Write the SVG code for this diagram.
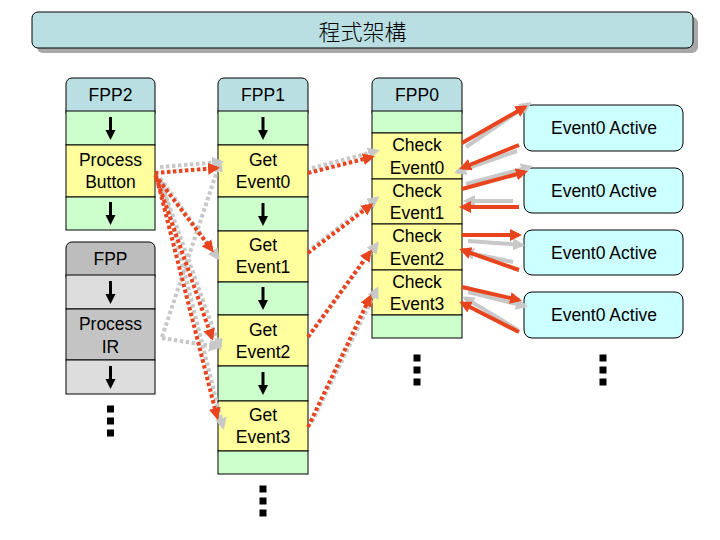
<svg xmlns="http://www.w3.org/2000/svg" xmlns:xlink="http://www.w3.org/1999/xlink" width="720" height="540" viewBox="0 0 720 540">
<style>
text{font-family:"Liberation Sans",Arial,sans-serif;font-size:17.5px;fill:#000;text-anchor:middle}
.title{font-family:"Noto Sans CJK TC","Noto Sans CJK SC",sans-serif;font-size:22px;font-weight:300}
.hdr{fill:#BADFE3;stroke:#000;stroke-width:1}
.ghdr{fill:#BDBDBD;stroke:#000;stroke-width:1}
.grn{fill:#CCFFCC;stroke:#000;stroke-width:1}
.yel{fill:#FFFF9E;stroke:#000;stroke-width:1}
.lg{fill:#DDDDDD;stroke:#000;stroke-width:1}
.dg{fill:#C4C4C4;stroke:#000;stroke-width:1}
.ev{fill:#CCFFFF;stroke:#000;stroke-width:1}
.rd{fill:none;stroke:#E8441E;stroke-width:4;stroke-dasharray:3.5 2.5;marker-end:url(#hr)}
.gd{fill:none;stroke:#C8C8C8;stroke-width:4;stroke-dasharray:3.5 2.5;marker-end:url(#hg)}
.rs{fill:none;stroke:#E8441E;stroke-width:4;marker-end:url(#hr)}
.gs{fill:none;stroke:#C8C8C8;stroke-width:4;marker-end:url(#hg)}
.dot{fill:#000}
</style>
<defs>
<marker id="hr" markerUnits="userSpaceOnUse" markerWidth="13" markerHeight="13" refX="9" refY="6" orient="auto"><path d="M0,0 L12,6 L0,12 z" fill="#E8441E"/></marker>
<marker id="hg" markerUnits="userSpaceOnUse" markerWidth="13" markerHeight="13" refX="9" refY="6" orient="auto"><path d="M0,0 L12,6 L0,12 z" fill="#C8C8C8"/></marker>
<g id="down"><rect x="-1.5" y="0" width="3" height="16" fill="#000"/><path d="M-5,13 L5,13 L0,23 z" fill="#000"/></g>
<g id="dots"><rect x="-3.5" y="-3.5" width="7" height="7"/><rect x="-3.5" y="8.5" width="7" height="7"/><rect x="-3.5" y="20.5" width="7" height="7"/></g>
</defs>
<rect width="720" height="540" fill="#fff"/>
<g id="title">
<rect x="37" y="17" width="661" height="36" rx="6" fill="#A8A8A8"/>
<rect x="32" y="12" width="661" height="36" rx="6" class="hdr"/>
<text x="362.5" y="40" class="title">程式架構</text>
</g>
<g id="fpp2">
<rect x="66" y="78" width="89" height="40" rx="6" class="hdr"/>
<rect x="66" y="111" width="89" height="34" class="grn"/>
<rect x="66" y="145" width="89" height="52" class="yel"/>
<rect x="66" y="197" width="89" height="33" class="grn"/>
<text x="110.5" y="101">FPP2</text>
<text x="110.5" y="166">Process</text>
<text x="110.5" y="188">Button</text>
<use xlink:href="#down" x="110.5" y="117"/>
<use xlink:href="#down" x="110.5" y="202"/>
</g>
<g id="fpp">
<rect x="66" y="242" width="89" height="40" rx="6" class="ghdr"/>
<rect x="66" y="275" width="89" height="34" class="lg"/>
<rect x="66" y="309" width="89" height="51" class="dg"/>
<rect x="66" y="360" width="89" height="34" class="lg"/>
<text x="110.5" y="265">FPP</text>
<text x="110.5" y="330">Process</text>
<text x="110.5" y="353">IR</text>
<use xlink:href="#down" x="110.5" y="281"/>
<use xlink:href="#down" x="110.5" y="366"/>
<use xlink:href="#dots" x="110.5" y="409" class="dot"/>
</g>
<g id="fpp1">
<rect x="218" y="78" width="90" height="40" rx="6" class="hdr"/>
<rect x="218" y="111" width="90" height="34" class="grn"/>
<rect x="218" y="145" width="90" height="52" class="yel"/>
<rect x="218" y="197" width="90" height="34" class="grn"/>
<rect x="218" y="231" width="90" height="51" class="yel"/>
<rect x="218" y="282" width="90" height="33" class="grn"/>
<rect x="218" y="315" width="90" height="51" class="yel"/>
<rect x="218" y="366" width="90" height="35" class="grn"/>
<rect x="218" y="401" width="90" height="50" class="yel"/>
<rect x="218" y="451" width="90" height="23" class="grn"/>
<text x="263" y="101">FPP1</text>
<text x="263" y="166">Get</text>
<text x="263" y="188">Event0</text>
<text x="263" y="251">Get</text>
<text x="263" y="273">Event1</text>
<text x="263" y="336">Get</text>
<text x="263" y="358">Event2</text>
<text x="263" y="421">Get</text>
<text x="263" y="443">Event3</text>
<use xlink:href="#down" x="263" y="117"/>
<use xlink:href="#down" x="263" y="203"/>
<use xlink:href="#down" x="263" y="287"/>
<use xlink:href="#down" x="263" y="372"/>
<use xlink:href="#dots" x="263" y="489" class="dot"/>
</g>
<g id="fpp0">
<rect x="372" y="78" width="90" height="40" rx="6" class="hdr"/>
<rect x="372" y="111" width="90" height="22" class="grn"/>
<rect x="372" y="133" width="90" height="46" class="yel"/>
<rect x="372" y="179" width="90" height="45" class="yel"/>
<rect x="372" y="224" width="90" height="46" class="yel"/>
<rect x="372" y="270" width="90" height="45" class="yel"/>
<rect x="372" y="315" width="90" height="23" class="grn"/>
<text x="417" y="151">Check</text>
<text x="417" y="174">Event0</text>
<text x="417" y="197">Check</text>
<text x="417" y="219">Event1</text>
<text x="417" y="242">Check</text>
<text x="417" y="265">Event2</text>
<text x="417" y="288">Check</text>
<text x="417" y="310">Event3</text>
<text x="417" y="101">FPP0</text>
<use xlink:href="#dots" x="417" y="358" class="dot"/>
</g>
<g id="ev0"><rect x="524" y="105" width="159" height="46" rx="8" class="ev"/><text x="604" y="134">Event0 Active</text></g>
<g id="ev1"><rect x="524" y="168" width="159" height="45" rx="8" class="ev"/><text x="604" y="197">Event0 Active</text></g>
<g id="ev2"><rect x="524" y="230" width="159" height="45" rx="8" class="ev"/><text x="604" y="259">Event0 Active</text></g>
<g id="ev3"><rect x="524" y="292" width="159" height="46" rx="8" class="ev"/><text x="604" y="321">Event0 Active</text></g>
<use xlink:href="#dots" x="603" y="358" class="dot"/>
<g id="connectors">
<path class="gd" d="M160,167 L221,162"/>
<path class="gd" d="M160,178 L218,258"/>
<path class="gd" d="M160,180 L220,348"/>
<path class="gd" d="M162,182 L223,427"/>
<path class="gd" d="M162,337 L220,162"/>
<path class="gd" d="M162,338 L218,347"/>
<path class="rd" d="M155,173 L217,168"/>
<path class="rd" d="M155,175 L212,250"/>
<path class="rd" d="M156,177 L212,338"/>
<path class="rd" d="M157,179 L217,417"/>
<path class="gd" d="M312,168 L377,151"/>
<path class="gd" d="M312,248 L377,198"/>
<path class="gd" d="M312,332 L377,244"/>
<path class="gd" d="M312,422 L377,289"/>
<path class="rd" d="M308,173 L372,157"/>
<path class="rd" d="M308,253 L371,205"/>
<path class="rd" d="M308,337 L370,252"/>
<path class="rd" d="M308,427 L370,297"/>
<path class="gs" d="M466,147 L529,104"/>
<path class="gs" d="M517,151 L457,172"/>
<path class="gs" d="M466,184 L530,167"/>
<path class="gs" d="M513,201 L466,201"/>
<path class="gs" d="M468,241 L522,245"/>
<path class="gs" d="M513,262 L465,252"/>
<path class="gs" d="M468,292 L525,306"/>
<path class="gs" d="M518,330 L465,298"/>
<path class="rs" d="M462,143 L525,107"/>
<path class="rs" d="M519,145 L462,168"/>
<path class="rs" d="M462,189 L525,172"/>
<path class="rs" d="M519,207 L462,207"/>
<path class="rs" d="M462,235 L519,235"/>
<path class="rs" d="M519,270 L462,250"/>
<path class="rs" d="M462,287 L519,300"/>
<path class="rs" d="M519,332 L462,303"/>
</g>
</svg>
